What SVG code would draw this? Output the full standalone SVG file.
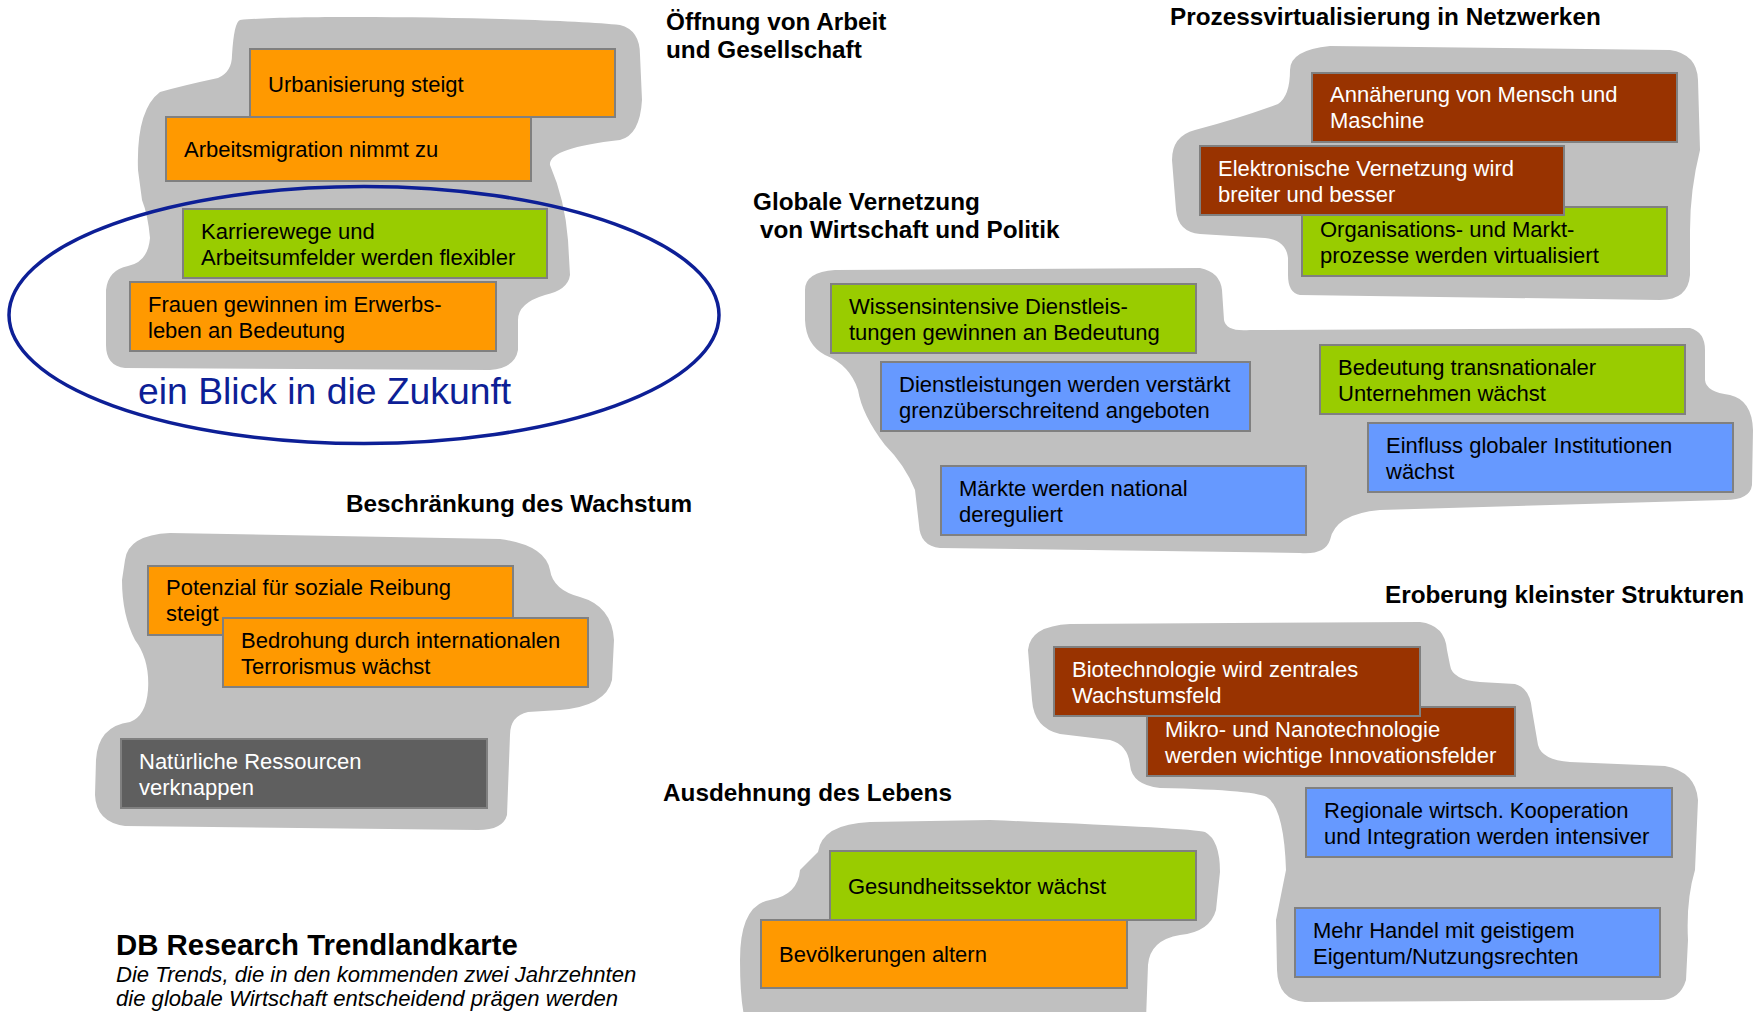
<svg xmlns="http://www.w3.org/2000/svg" width="1758" height="1012" viewBox="0 0 1758 1012">
<style>
.bg{fill:#ffffff}
.blob{fill:#C0C0C0}
.box{stroke:#808080;stroke-width:2}
.o{fill:#FF9900}.g{fill:#99CC00}.b{fill:#6699FF}.r{fill:#993300}.d{fill:#5F5F5F}
.t{font-family:"Liberation Sans",Arial,sans-serif;font-size:22px;fill:#000}
.w{fill:#ffffff}
.h{font-family:"Liberation Sans",Arial,sans-serif;font-size:24.3px;font-weight:bold;fill:#000}
.big{font-family:"Liberation Sans",Arial,sans-serif;font-size:29.4px;font-weight:bold;fill:#000}
.it{font-family:"Liberation Sans",Arial,sans-serif;font-size:22.1px;font-style:italic;fill:#000}
.zk{font-family:"Liberation Sans",Arial,sans-serif;font-size:37.3px;fill:#0D1F96}
</style>
<rect class="bg" x="0" y="0" width="1758" height="1012"/>
<g id="clusters">
<path class="blob" d="M240,20 C300,14 560,18 620,25 Q640,30 640,55 L642,100 Q640,135 620,140 Q548,148 550,165 Q565,200 568,240 L570,275 Q568,290 545,295 Q518,303 518,320 L518,350 Q515,368 490,370 L125,368 Q106,366 106,345 L106,290 Q108,270 128,266 Q148,262 150,238 Q148,215 142,200 L138,170 Q136,110 160,92 Q185,85 218,78 Q232,72 232,55 Q234,22 240,20 Z"/>
<path class="blob" d="M1290,70 Q1290,50 1330,46 L1670,50 Q1697,54 1698,80 L1700,150 Q1690,190 1690,230 L1690,275 Q1688,300 1660,300 L1300,295 Q1288,293 1288,275 L1288,258 Q1286,240 1265,238 L1200,234 Q1178,232 1176,210 L1172,160 Q1172,136 1195,130 Q1240,118 1278,104 Q1290,96 1290,70 Z"/>
<path class="blob" d="M805,290 Q805,272 835,270 L1200,268 Q1220,272 1222,290 L1224,320 Q1226,332 1250,330 L1690,328 Q1705,332 1705,350 L1705,380 Q1706,392 1730,395 Q1752,400 1753,430 L1752,485 Q1750,500 1725,500 L1380,510 Q1335,514 1330,540 Q1325,555 1300,553 L940,548 Q920,546 919,525 L915,490 Q905,465 885,445 Q862,415 858,390 Q850,365 825,355 Q806,345 805,320 Z"/>
<path class="blob" d="M125,560 Q128,535 170,533 L500,539 Q545,545 550,570 Q553,590 580,597 Q612,606 614,640 L612,680 Q606,706 560,710 L528,712 Q510,716 510,735 L507,815 Q503,830 478,830 L125,826 Q96,822 95,795 L96,760 Q98,726 130,722 Q146,716 148,690 Q150,660 135,640 Q122,615 122,580 Z"/>
<path class="blob" d="M1028,650 Q1030,626 1070,624 L1420,622 Q1445,625 1447,650 L1450,665 Q1452,680 1480,682 L1515,684 Q1530,688 1532,710 L1538,745 Q1542,760 1570,762 L1665,766 Q1696,772 1698,800 L1695,870 Q1686,900 1688,940 L1686,980 Q1680,1000 1660,1000 L1305,1002 Q1278,1000 1277,970 L1276,920 Q1282,890 1286,870 Q1284,810 1268,798 Q1260,790 1160,788 Q1132,785 1130,765 Q1128,745 1110,740 L1060,734 Q1034,728 1032,700 Z"/>
<path class="blob" d="M818,852 Q822,824 870,822 L990,820 Q1190,828 1205,832 Q1220,840 1220,872 L1216,910 Q1210,932 1180,935 Q1150,940 1148,965 L1146,1020 L745,1020 Q740,1000 740,960 Q740,905 770,900 Q798,895 800,870 Z"/>
</g>
<g id="connectors"/>
<ellipse id="zukunft-ellipse" cx="364" cy="315" rx="355" ry="128.5" fill="none" stroke="#0D1F96" stroke-width="3.5"/>
<text class="zk" x="138" y="404">ein Blick in die Zukunft</text>
<g id="n-urbanisierung"><rect class="box o" x="250" y="49" width="365" height="68"/><text class="t" x="268" y="92">Urbanisierung steigt</text></g>
<g id="n-arbeitsmigration"><rect class="box o" x="166" y="117" width="365" height="64"/><text class="t" x="184" y="157">Arbeitsmigration nimmt zu</text></g>
<g id="n-karrierewege"><rect class="box g" x="183" y="209" width="364" height="69"/><text class="t" x="201" y="239">Karrierewege und</text><text class="t" x="201" y="265">Arbeitsumfelder werden flexibler</text></g>
<g id="n-frauen"><rect class="box o" x="130" y="282" width="366" height="69"/><text class="t" x="148" y="312">Frauen gewinnen im Erwerbs-</text><text class="t" x="148" y="338">leben an Bedeutung</text></g>
<g id="n-annaeherung"><rect class="box r" x="1312" y="73" width="365" height="69"/><text class="t w" x="1330" y="102">Annäherung von Mensch und</text><text class="t w" x="1330" y="128">Maschine</text></g>
<g id="n-organisation"><rect class="box g" x="1302" y="207" width="365" height="69"/><text class="t" x="1320" y="237">Organisations- und Markt-</text><text class="t" x="1320" y="263">prozesse werden virtualisiert</text></g>
<g id="n-elektronisch"><rect class="box r" x="1200" y="146" width="364" height="69"/><text class="t w" x="1218" y="176">Elektronische Vernetzung wird</text><text class="t w" x="1218" y="202">breiter und besser</text></g>
<g id="n-wissen"><rect class="box g" x="831" y="284" width="365" height="69"/><text class="t" x="849" y="314">Wissensintensive Dienstleis-</text><text class="t" x="849" y="340">tungen gewinnen an Bedeutung</text></g>
<g id="n-dienstleistungen"><rect class="box b" x="881" y="362" width="369" height="69"/><text class="t" x="899" y="392">Dienstleistungen werden verstärkt</text><text class="t" x="899" y="418">grenzüberschreitend angeboten</text></g>
<g id="n-maerkte"><rect class="box b" x="941" y="466" width="365" height="69"/><text class="t" x="959" y="496">Märkte werden national</text><text class="t" x="959" y="522">dereguliert</text></g>
<g id="n-transnational"><rect class="box g" x="1320" y="345" width="365" height="69"/><text class="t" x="1338" y="375">Bedeutung transnationaler</text><text class="t" x="1338" y="401">Unternehmen wächst</text></g>
<g id="n-einfluss"><rect class="box b" x="1368" y="423" width="365" height="69"/><text class="t" x="1386" y="453">Einfluss globaler Institutionen</text><text class="t" x="1386" y="479">wächst</text></g>
<g id="n-potenzial"><rect class="box o" x="148" y="566" width="365" height="69"/><text class="t" x="166" y="595">Potenzial für soziale Reibung</text><text class="t" x="166" y="621">steigt</text></g>
<g id="n-bedrohung"><rect class="box o" x="223" y="618" width="365" height="69"/><text class="t" x="241" y="648">Bedrohung durch internationalen</text><text class="t" x="241" y="674">Terrorismus wächst</text></g>
<g id="n-ressourcen"><rect class="box d" x="121" y="739" width="366" height="69"/><text class="t w" x="139" y="769">Natürliche Ressourcen</text><text class="t w" x="139" y="795">verknappen</text></g>
<g id="n-mikro"><rect class="box r" x="1147" y="707" width="368" height="69"/><text class="t w" x="1165" y="737">Mikro- und Nanotechnologie</text><text class="t w" x="1165" y="763">werden wichtige Innovationsfelder</text></g>
<g id="n-biotech"><rect class="box r" x="1054" y="647" width="366" height="69"/><text class="t w" x="1072" y="677">Biotechnologie wird zentrales</text><text class="t w" x="1072" y="703">Wachstumsfeld</text></g>
<g id="n-regional"><rect class="box b" x="1306" y="788" width="366" height="69"/><text class="t" x="1324" y="818">Regionale wirtsch. Kooperation</text><text class="t" x="1324" y="844">und Integration werden intensiver</text></g>
<g id="n-handel"><rect class="box b" x="1295" y="908" width="365" height="69"/><text class="t" x="1313" y="938">Mehr Handel mit geistigem</text><text class="t" x="1313" y="964">Eigentum/Nutzungsrechten</text></g>
<g id="n-gesundheit"><rect class="box g" x="830" y="851" width="366" height="69"/><text class="t" x="848" y="894">Gesundheitssektor wächst</text></g>
<g id="n-bevoelkerung"><rect class="box o" x="761" y="920" width="366" height="68"/><text class="t" x="779" y="962">Bevölkerungen altern</text></g>
<g id="titles">
<text class="h" x="666" y="30">Öffnung von Arbeit</text>
<text class="h" x="666" y="58">und Gesellschaft</text>
<text class="h" x="1170" y="25">Prozessvirtualisierung in Netzwerken</text>
<text class="h" x="753" y="210">Globale Vernetzung</text>
<text class="h" x="760" y="238">von Wirtschaft und Politik</text>
<text class="h" x="346" y="512">Beschränkung des Wachstum</text>
<text class="h" x="1385" y="603">Eroberung kleinster Strukturen</text>
<text class="h" x="663" y="801">Ausdehnung des Lebens</text>
<text class="big" x="116" y="955">DB Research Trendlandkarte</text>
<text class="it" x="116" y="982">Die Trends, die in den kommenden zwei Jahrzehnten</text>
<text class="it" x="116" y="1006">die globale Wirtschaft entscheidend prägen werden</text>
</g>
</svg>
